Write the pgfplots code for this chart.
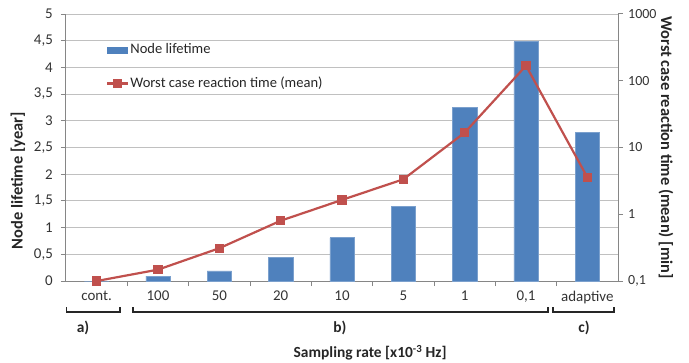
\documentclass[border=0pt]{standalone}
\usepackage{fontspec}
\setmainfont{Carlito}
\usepackage{pgfplots}
\pgfplotsset{compat=1.18}
\definecolor{barblue}{RGB}{79,129,189}
\definecolor{linered}{RGB}{192,80,77}
\definecolor{gridgray}{RGB}{192,192,192}
\definecolor{axgray}{RGB}{134,134,134}
\begin{document}
\fontsize{15}{18}\selectfont
\begin{tikzpicture}[x=1bp,y=1bp]
\begin{axis}[
  at={(0,0)}, anchor=south west,
  scale only axis, width=552bp, height=267bp,
  xmin=-0.5, xmax=8.5, ymin=0, ymax=5,
  axis x line*=bottom, axis y line*=left,
  axis line style={axgray, line width=1bp},
  xtick={0,...,8},
  xticklabels={cont.,100,50,20,10,5,1,{0,1},adaptive},
  minor xtick={0.5,1.5,...,7.5},
  x tick style={draw=none},
  minor x tick style={draw=axgray, line width=1bp},
  minor tick length=5bp,
  ytick={0,0.5,1,1.5,2,2.5,3,3.5,4,4.5,5},
  y tick style={axgray, line width=1bp},
  major tick length=5bp,
  tick align=outside,
  ymajorgrids,
  grid style={gridgray, line width=1bp},
  /pgf/number format/use comma,
  /pgf/number format/assume math mode=true,
  tick label style={font=\fontsize{15}{18}\selectfont, text=black!80},
  yticklabel style={xshift=-3bp},
  ylabel={\bfseries Node lifetime [year]},
  ylabel style={at={(rel axis cs:-0.087,0.375)}, anchor=center, font=\fontsize{16.5}{19}\selectfont, text=black!85},
  xlabel={\bfseries Sampling rate [x10\textsuperscript{-3} Hz]},
  xlabel style={at={(rel axis cs:0.551,-0.2685)}, anchor=center, font=\fontsize{15.5}{18}\selectfont, text=black!85},
]
\addplot[ybar, bar width=24.4bp, fill=barblue, draw=barblue!75!white, line width=0.6bp]
  coordinates {(0,0) (1,0.09) (2,0.19) (3,0.44) (4,0.81) (5,1.40) (6,3.25) (7,4.48) (8,2.78)};
\end{axis}
\begin{axis}[
  at={(0,0)}, anchor=south west,
  scale only axis, width=552bp, height=267bp,
  xmin=-0.5, xmax=8.5,
  ymode=log, ymin=0.1, ymax=1000,
  axis x line=none, axis y line*=right,
  axis line style={axgray, line width=1bp},
  ytick={0.1,1,10,100,1000},
  yticklabels={{0,1},1,10,100,1000},
  yminorticks=false,
  y tick style={axgray, line width=1bp},
  major tick length=5bp,
  tick align=outside,
  clip=false,
  tick label style={font=\fontsize{14}{16}\selectfont, text=black!80},
  ylabel={\bfseries Worst case reaction time (mean) [min]},
  ylabel style={at={(rel axis cs:1.087,0.5)}, anchor=center, rotate=180, font=\fontsize{16.5}{19}\selectfont, text=black!85},
  legend style={at={(rel axis cs:0.0725,0.893)}, anchor=north west, draw=none, fill=none,
    inner sep=0pt, row sep=19bp, font=\fontsize{14.6}{17}\selectfont, text=black!85,
    nodes={inner sep=1bp}},
  legend cell align=left,
]
\addlegendimage{legend image code/.code={\fill[barblue] (0bp,-3bp) rectangle (20bp,3bp);}}
\addlegendentry{Node lifetime}
\addplot[linered, line width=2.2bp, mark=square*, mark size=3.5bp, mark options={solid, fill=linered},
  legend image code/.code={\draw[linered, line width=2.2bp] (0bp,0bp) -- (21bp,0bp); \fill[linered] (7bp,-3.5bp) rectangle (14bp,3.5bp);}]
  coordinates {(0,0.1) (1,0.148) (2,0.31) (3,0.80) (4,1.64) (5,3.34) (6,16.7) (7,168) (8,3.58)};
\addlegendentry{Worst case reaction time (mean)}
\end{axis}
\draw[line width=1.6bp, black!85] (0.7,-26) -- (0.7,-31) -- (54,-31) -- (54,-26);
\draw[line width=1.6bp, black!85] (66.7,-26) -- (66.7,-31) -- (482,-31) -- (482,-26);
\draw[line width=1.6bp, black!85] (487,-26) -- (487,-31) -- (548,-31) -- (548,-26);
\node[text=black!85, font=\bfseries\fontsize{15.5}{18}\selectfont] at (17,-47) {a)};
\node[text=black!85, font=\bfseries\fontsize{15.5}{18}\selectfont] at (274,-47) {b)};
\node[text=black!85, font=\bfseries\fontsize{15.5}{18}\selectfont] at (518,-47) {c)};
\pgfresetboundingbox
\path[use as bounding box] (-66,-81) rectangle (623,281);
\end{tikzpicture}
\end{document}
